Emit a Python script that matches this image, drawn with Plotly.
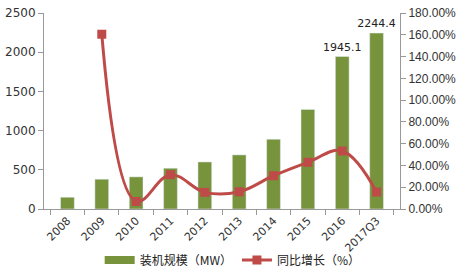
import plotly.graph_objects as go

categories = ["2008", "2009", "2010", "2011", "2012", "2013", "2014", "2015", "2016", "2017Q3"]
capacity_mw = [150, 380, 410, 520, 600, 690, 890, 1270, 1945.1, 2244.4]
growth_pct = [None, 160.5, 6.9, 31.5, 15.3, 15.8, 30.6, 42.9, 53.3, 15.6]
labeled = {"2016", "2017Q3"}

bar_text = [f"{v}" if c in labeled else "" for c, v in zip(categories, capacity_mw)]

fig = go.Figure()
fig.add_trace(go.Bar(
    x=categories, y=capacity_mw, name="装机规模（MW）", showlegend=False,
    marker=dict(color="#77933C"), width=0.4,
    text=bar_text, textposition="outside", cliponaxis=False, constraintext="none",
    textfont=dict(family="DejaVu Sans", size=11, color="#222222"),
))
# legend entry for bars (wide green swatch as in the reference)
fig.add_trace(go.Scatter(
    x=[None], y=[None], name="装机规模（MW）", mode="lines",
    line=dict(color="#77933C", width=8),
))
fig.add_trace(go.Scatter(
    x=categories, y=growth_pct, name="同比增长（%）", yaxis="y2",
    mode="lines+markers",
    line=dict(color="#BE4B48", width=3, shape="spline", smoothing=1.1),
    marker=dict(symbol="square", size=9, color="#BE4B48"),
    connectgaps=False,
))

axis_font = dict(family="DejaVu Sans", size=11, color="#333333")
fig.update_layout(
    width=457, height=274,
    margin=dict(l=44, r=57, t=13, b=65, autoexpand=False),
    paper_bgcolor="white", plot_bgcolor="white",
    font=dict(family="DejaVu Sans", size=11, color="#333333"),
    showlegend=True,
    legend=dict(orientation="h", x=0.53, xanchor="center", y=-0.26, yanchor="middle",
                font=dict(family="Noto Sans CJK SC", size=12, color="#222222"),
                itemwidth=30, bgcolor="rgba(0,0,0,0)"),
    xaxis=dict(type="category", tickangle=-45, showline=True, linecolor="#999999",
               ticks="outside", tickson="boundaries", ticklen=5, tickcolor="#999999",
               showgrid=False, tickfont=axis_font),
    yaxis=dict(range=[0, 2500], dtick=500, showline=True, linecolor="#999999",
               ticks="outside", ticklen=5, tickcolor="#999999", showgrid=False,
               zeroline=False, tickfont=dict(family="DejaVu Sans", size=12, color="#333333")),
    yaxis2=dict(range=[0, 180], dtick=20, overlaying="y", side="right", showline=True,
                linecolor="#999999", ticks="outside", ticklen=5, tickcolor="#999999",
                showgrid=False, zeroline=False, tickformat=".2f", ticksuffix="%",
                tickfont=dict(family="Liberation Sans", size=12, color="#333333")),
    bargap=0.6,
)

fig.write_html("out.html")
